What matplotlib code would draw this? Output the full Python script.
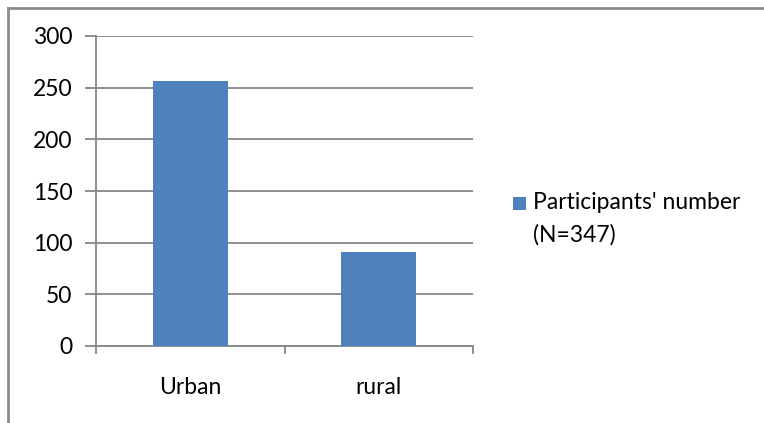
import matplotlib.pyplot as plt
from matplotlib.lines import Line2D
from matplotlib.patches import Rectangle

# Participants by residence
categories = ['Urban', 'rural']
participants = [256, 91]
series_label = ["Participants' number", "(N=347)"]
y_ticks = [0, 50, 100, 150, 200, 250, 300]

bar_color = '#4F81BD'
line_color = '#868686'

plt.rcParams['font.family'] = ['Lato', 'DejaVu Sans']
fs = 16.5

W, H = 764, 423
fig = plt.figure(figsize=(W / 100, H / 100), dpi=100)
ax = fig.add_axes([96 / W, 1 - 346 / H, (473 - 96) / W, (346 - 36) / H])

x = list(range(len(categories)))
bars = ax.bar(x, participants, width=0.4, color=bar_color, zorder=3)

ax.set_xlim(-0.5, len(categories) - 0.5)
ax.set_ylim(0, 300)
ax.set_yticks(y_ticks)
ax.set_yticklabels([str(v) for v in y_ticks], fontsize=fs)
ax.set_xticks(x)
ax.set_xticklabels(categories, fontsize=fs)

# category boundaries carry the x tick marks
ax.set_xticks([-0.5, 0.5, 1.5], minor=True)
ax.tick_params(axis='x', which='major', length=0, pad=22)
ax.tick_params(axis='x', which='minor', length=6, width=1.3, color=line_color)
ax.tick_params(axis='y', length=8, width=1.3, color=line_color, pad=9)

ax.yaxis.grid(True, color=line_color, linewidth=1.3, zorder=0)
ax.set_axisbelow(True)
for side in ['top', 'right']:
    ax.spines[side].set_visible(False)
for side in ['left', 'bottom']:
    ax.spines[side].set_color(line_color)
    ax.spines[side].set_linewidth(1.3)

# legend: key square beside the first line, count on the line below
fig.add_artist(Rectangle((513 / W, 1 - 210 / H), 13 / W, 13 / H,
                         facecolor=bar_color, edgecolor='none',
                         transform=fig.transFigure))
fig.text(533 / W, 1 - 209 / H, series_label[0], fontsize=fs, va='baseline')
fig.text(533 / W, 1 - 242 / H, series_label[1], fontsize=fs, va='baseline')

# outer chart frame (only top and left edges show)
fig.add_artist(Line2D([7.5 / W, 1], [1 - 8.5 / H, 1 - 8.5 / H],
                      color='#8C8C8C', linewidth=2, transform=fig.transFigure))
fig.add_artist(Line2D([7.5 / W, 7.5 / W], [0, 1 - 8.5 / H],
                      color='#8C8C8C', linewidth=2, transform=fig.transFigure))

fig.savefig('out.png', dpi=100)
